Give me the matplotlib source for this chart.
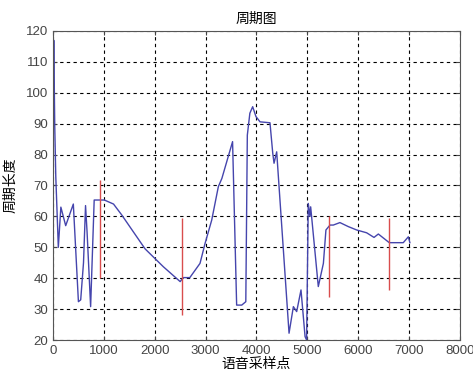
import matplotlib
matplotlib.use("Agg")
import matplotlib.pyplot as plt

plt.rcParams['font.family'] = ['Liberation Sans', 'Noto Sans CJK SC', 'DejaVu Sans']

# period contour (sample index, period length)
pitch_x = [0, 8, 15, 35, 55, 90, 105, 155, 250, 400, 500, 545, 600, 640, 670, 740,
           810, 1010, 1190, 1350, 1810, 2170, 2500, 2560, 2690, 2890, 2990, 3120,
           3250, 3320, 3530, 3610, 3710, 3790, 3820, 3870, 3925, 3990, 4070, 4265,
           4320, 4345, 4397, 4640, 4725, 4790, 4875, 4955, 4985, 5018, 5050, 5065,
           5215, 5315, 5365, 5445, 5510, 5640, 5805, 5970, 6165, 6310, 6395, 6610,
           6885, 6985, 7015]
pitch_y = [50, 105, 117, 89, 73, 57, 50, 63, 57, 64, 32.4, 33, 45, 63.5, 55, 30.8,
           65.3, 65.3, 64, 60.5, 49.5, 43.7, 38.9, 40.2, 40.2, 44.8, 51.3, 58.8,
           69.6, 72.3, 84.2, 31.3, 31.3, 32.4, 86.3, 93.4, 95.5, 92.3, 90.6, 90.3,
           80.4, 77.2, 80.9, 22.2, 30.8, 29.2, 36.2, 21.1, 20, 64.2, 60, 63.1,
           37.3, 44.8, 55.6, 57.2, 57.2, 58, 56.7, 55.6, 54.7, 53.2, 54.3, 51.5,
           51.5, 53.4, 51.5]

# red segment markers: x position, bottom, top
mark_x = [924, 2542, 5431, 6611]
mark_lo = [40, 28.1, 34, 36.2]
mark_hi = [71.8, 59.4, 60.1, 59.4]

fig = plt.figure(figsize=(4.73, 3.76), dpi=100)
ax = fig.add_axes([0.112, 0.0957, 0.8605, 0.8219])
ax.plot(pitch_x, pitch_y, color=(0.27, 0.27, 0.68), lw=1.0)
ax.vlines(mark_x, mark_lo, mark_hi, color=(0.85, 0.3, 0.3), lw=1.0)

ax.set_xlim(0, 8000)
ax.set_ylim(20, 120)
ax.set_xticks(range(0, 8001, 1000))
ax.set_yticks(range(20, 121, 10))
ax.grid(True, color='black', linestyle=(0, (3, 3)), lw=0.8)
ax.tick_params(direction='in', labelsize=9.5, colors='#444444', length=3, top=True, right=True,
               labeltop=False, labelright=False)
for s in ax.spines.values():
    s.set_color('#555555')
ax.set_title('周期图', fontsize=10, pad=6)
ax.set_xlabel('语音采样点', fontsize=10, labelpad=0)
ax.set_ylabel('周期长度', fontsize=10, labelpad=6)

fig.savefig('out.png', dpi=100)
